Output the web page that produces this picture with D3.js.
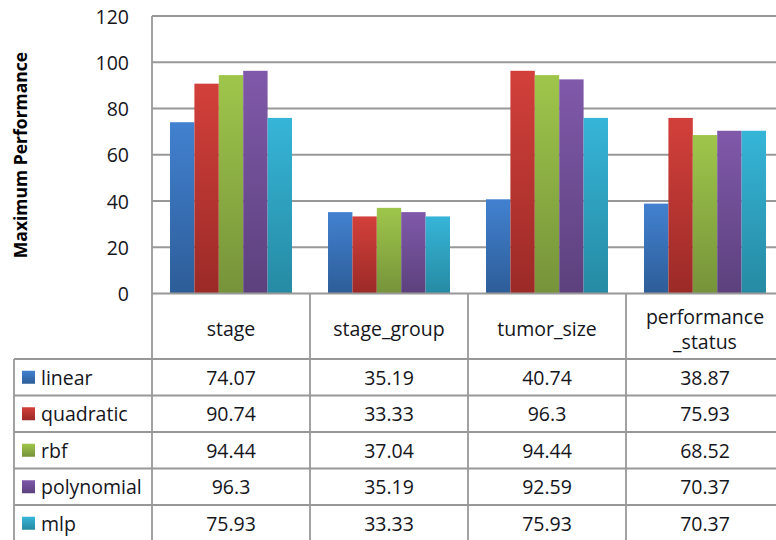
<!DOCTYPE html>
<html>
<head>
<meta charset="utf-8">
<script src="https://cdn.jsdelivr.net/npm/d3@7"></script>
<style>
  html, body { margin: 0; padding: 0; background: #fff; }
  svg { display: block; }
</style>
</head>
<body>
<svg id="chart" width="776" height="540"></svg>
<script>
const categories = ["stage", "stage_group", "tumor_size", "performance_status"];
const categoryLabels = [["stage"], ["stage_group"], ["tumor_size"], ["performance", "_status"]];
const seriesNames = ["linear", "quadratic", "rbf", "polynomial", "mlp"];
const linear     = [74.07, 35.19, 40.74, 38.87];
const quadratic  = [90.74, 33.33, 96.3, 75.93];
const rbf        = [94.44, 37.04, 94.44, 68.52];
const polynomial = [96.3, 35.19, 92.59, 70.37];
const mlp        = [75.93, 33.33, 75.93, 70.37];
const seriesValues = [linear, quadratic, rbf, polynomial, mlp];
const yTicks = [0, 20, 40, 60, 80, 100, 120];
const yTitle = "Maximum Performance";

const colorsTop = ["#4281d0", "#d3403b", "#9fc64b", "#8059aa", "#36b5d8"];
const colorsBottom = ["#2d5d98", "#9b2a27", "#76933a", "#5c417d", "#268aa3"];

const svg = d3.select("#chart");
const font = "'Open Sans', sans-serif";
const fs = 19.5;
const textColor = "#15151c";
const lineColor = "#989898";

const plotLeft = 152, plotTop = 16, plotBottom = 293.5;
const colW = 158;
const plotRight = plotLeft + colW * categories.length;
const tableLeft = 14;
const headerBottom = 359;
const rowH = 36.5;

const defs = svg.append("defs");
seriesNames.forEach((s, i) => {
  const g = defs.append("linearGradient").attr("id", "grad" + i)
    .attr("x1", 0).attr("y1", 0).attr("x2", 0).attr("y2", 1);
  g.append("stop").attr("offset", "0%").attr("stop-color", colorsTop[i]);
  g.append("stop").attr("offset", "100%").attr("stop-color", colorsBottom[i]);
});

const x0 = d3.scaleBand().domain(categories).range([plotLeft, plotRight])
  .paddingInner(0.228).paddingOuter(0.114);
const x1 = d3.scaleBand().domain(seriesNames).range([0, x0.bandwidth()]);
const y = d3.scaleLinear().domain([0, 120]).range([plotBottom, plotTop]);

// gridlines
svg.append("g").selectAll("line").data(yTicks.filter(t => t > 0)).join("line")
  .attr("x1", plotLeft).attr("x2", plotRight)
  .attr("y1", d => y(d)).attr("y2", d => y(d))
  .attr("stroke", lineColor).attr("stroke-width", 1.8);

// bars
const groups = svg.append("g").selectAll("g").data(categories).join("g")
  .attr("transform", c => `translate(${x0(c)},0)`);
groups.selectAll("rect")
  .data((c, ci) => seriesNames.map((s, si) => ({ s, si, v: seriesValues[si][ci] })))
  .join("rect")
  .attr("x", d => x1(d.s))
  .attr("width", x1.bandwidth())
  .attr("y", d => y(d.v))
  .attr("height", d => y(0) - y(d.v))
  .attr("fill", d => `url(#grad${d.si})`);

// y tick labels
svg.append("g").selectAll("text").data(yTicks).join("text")
  .attr("x", 129).attr("y", d => y(d))
  .attr("text-anchor", "end").attr("dominant-baseline", "central")
  .attr("font-family", font).attr("font-size", fs).attr("fill", textColor)
  .text(d => d);

// y title
svg.append("text")
  .attr("transform", "translate(20,155) rotate(-90)")
  .attr("text-anchor", "middle").attr("dominant-baseline", "central")
  .attr("font-family", font).attr("font-size", 17.5).attr("font-weight", "bold")
  .attr("fill", "#000")
  .text(yTitle);

// table lines
const tableBottom = headerBottom + rowH * seriesNames.length;
const tl = svg.append("g").attr("stroke", lineColor).attr("stroke-width", 1.8);
tl.append("line").attr("x1", plotLeft).attr("x2", plotRight).attr("y1", plotBottom).attr("y2", plotBottom);
tl.append("line").attr("x1", plotLeft).attr("x2", plotLeft).attr("y1", plotTop).attr("y2", tableBottom);
tl.selectAll("line.col").data(categories).join("line").attr("class", "col")
  .attr("x1", c => x0(c) - x0.step() * x0.paddingOuter() + x0.step())
  .attr("x2", c => x0(c) - x0.step() * x0.paddingOuter() + x0.step())
  .attr("y1", plotBottom).attr("y2", tableBottom);
tl.append("line").attr("x1", tableLeft).attr("x2", tableLeft).attr("y1", headerBottom).attr("y2", tableBottom);
tl.selectAll("line.row").data(d3.range(seriesNames.length + 1)).join("line").attr("class", "row")
  .attr("x1", tableLeft).attr("x2", plotRight)
  .attr("y1", i => headerBottom + i * rowH).attr("y2", i => headerBottom + i * rowH);

// header labels
const colCenter = c => x0(c) + x0.bandwidth() / 2;
categories.forEach((c, ci) => {
  const lines = categoryLabels[ci];
  const cy = 328.5;
  const lh = 25;
  lines.forEach((t, li) => {
    svg.append("text")
      .attr("x", colCenter(c))
      .attr("y", cy + (li - (lines.length - 1) / 2) * lh)
      .attr("text-anchor", "middle").attr("dominant-baseline", "central")
      .attr("font-family", font).attr("font-size", fs).attr("fill", textColor)
      .text(t);
  });
});

// rows: legend + values
seriesNames.forEach((s, si) => {
  const cy = headerBottom + si * rowH + rowH / 2;
  svg.append("rect").attr("x", 22).attr("y", cy - 6.5).attr("width", 13).attr("height", 13)
    .attr("fill", `url(#grad${si})`);
  svg.append("text").attr("x", 41).attr("y", cy)
    .attr("dominant-baseline", "central")
    .attr("font-family", font).attr("font-size", fs).attr("fill", textColor)
    .text(s);
  categories.forEach((c, ci) => {
    svg.append("text").attr("x", colCenter(c)).attr("y", cy)
      .attr("text-anchor", "middle").attr("dominant-baseline", "central")
      .attr("font-family", font).attr("font-size", fs).attr("fill", textColor)
      .text(seriesValues[si][ci]);
  });
});
</script>
</body>
</html>
